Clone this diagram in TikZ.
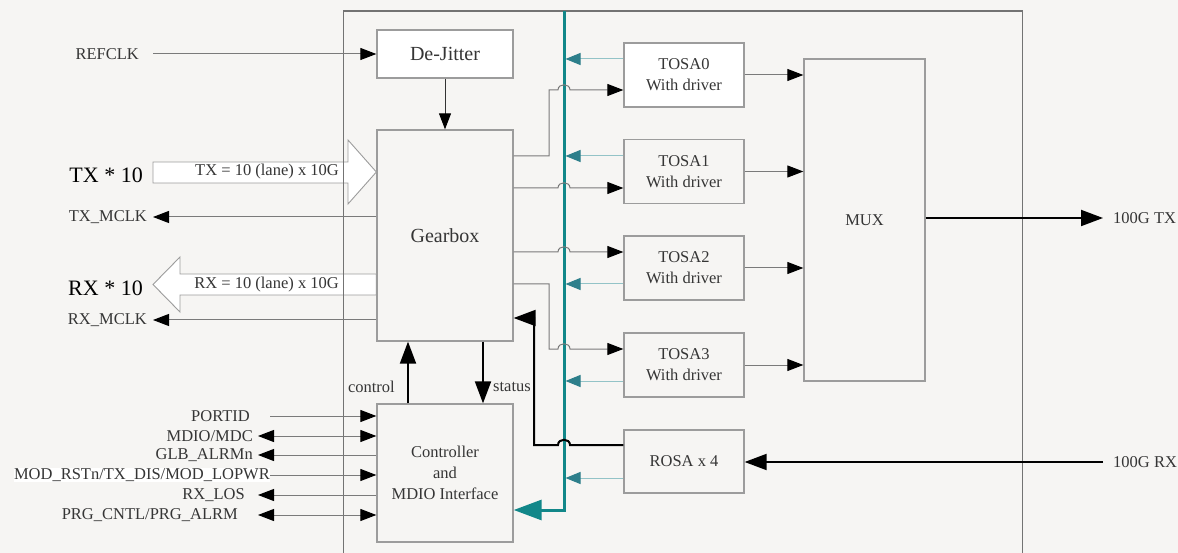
\documentclass[tikz,border=0pt]{standalone}
\usepackage{fontspec}
\setmainfont{Liberation Serif}
\usetikzlibrary{arrows.meta,positioning,calc}

\definecolor{paper}{HTML}{F6F5F3}
\definecolor{edge}{HTML}{9C9C9C}
\definecolor{wirec}{HTML}{7A7A7A}
\definecolor{ink}{HTML}{353535}
\definecolor{teal1}{HTML}{128789}
\definecolor{teal2}{HTML}{93C3C7}
\definecolor{teal3}{HTML}{2D7F8B}

\newcommand\sigfont{\fontsize{16.5}{21}\selectfont}
\newcommand\headfont{\fontsize{20}{24}\selectfont}
\newcommand\portfont{\fontsize{22}{26}\selectfont}

\tikzset{
  blk/.style={draw=edge, line width=1.3pt, fill=paper, inner sep=0pt,
    text=ink, font=\sigfont, align=center},
  sig/.style={text=ink, font=\sigfont, inner sep=0pt},
  wire/.style={draw=wirec, line width=1pt},
  heavy/.style={draw=black, line width=2pt},
  arr/.style={-{Triangle[length=16pt,width=12pt,color=black]}},
  larr/.style={{Triangle[length=16pt,width=12pt,color=black]}-},
  darr/.style={{Triangle[length=16pt,width=12pt,color=black]}-{Triangle[length=16pt,width=12pt,color=black]}},
  bigarr/.style={-{Triangle[length=22pt,width=16pt]}},
  fb/.style={draw=teal2, line width=1pt, shorten >=1.5pt,
    -{Triangle[length=15pt,width=12pt,color=teal3]}},
  fat/.style={draw=edge, line width=0.9pt, fill=white},
}

\begin{document}
\begin{tikzpicture}[x=1pt,y=-1pt]
\fill[paper] (0,0) rectangle (1178,553);
\useasboundingbox (0,0) rectangle (1178,553);

% blocks
\node[blk, fill=white, font=\headfont, minimum width=136pt, minimum height=48pt] (dejit) at (445,54) {De-Jitter};
\node[blk, font=\headfont, minimum width=136pt, minimum height=211pt] (gear) at (445,235.5) {Gearbox};
\node[blk, minimum width=136pt, minimum height=138pt] (ctrl) at (445,473) {Controller\\and\\MDIO Interface};
\foreach \i/\y/\f in {0/75/white,1/171.5/paper,2/268/paper,3/365/paper}
  \node[blk, fill=\f, minimum width=120pt, minimum height=64pt] (tosa\i) at (684,\y) {TOSA\i\\With driver};
\node[blk, minimum width=120pt, minimum height=63pt] (rosa) at (684,461.5) {ROSA x 4};
\node[blk, minimum width=121pt, minimum height=322pt] (mux) at (864.5,220) {MUX};

% host side, wide lane arrows
\node[sig, anchor=east, font=\portfont, text=black] (txin) at (143,175) {TX * 10};
\filldraw[fat] (153,162) -- (348,162) -- (348,140) -- (gear.west |- 0,172)
  -- (348,204) -- (348,183) -- (153,183) -- cycle;
\node[sig, anchor=east] (txlane) at (339,172) {TX = 10 (lane) x 10G};
\node[sig, anchor=east, font=\portfont, text=black] (rxin) at (143,288) {RX * 10};
\filldraw[fat] (gear.west |- 0,274) -- (180,274) -- (180,257) -- (153,284.5)
  -- (180,312) -- (180,295) -- (gear.west |- 0,295) -- cycle;
\node[sig, anchor=east] (rxlane) at (339,284.5) {RX = 10 (lane) x 10G};

% module outline
\draw[draw=black!55, line width=1.6pt] (343.5,553) -- (343.5,11) -- (1022.5,11) -- (1022.5,553);

% clocks
\node[sig, anchor=east] (refclk) at (139,54) {REFCLK};
\draw[wire, arr] ([xshift=14pt]refclk.east) -- (dejit.west);
\draw[wire, draw=black!80, arr] (dejit.south) -- (gear.north);
\node[sig, anchor=east] (txmclk) at (147,217) {TX\_MCLK};
\draw[wire, arr] (gear.west |- txmclk) -- ([xshift=6pt]txmclk.east);
\node[sig, anchor=east] (rxmclk) at (147,320) {RX\_MCLK};
\draw[wire, arr] (gear.west |- rxmclk) -- ([xshift=6pt]rxmclk.east);

% management pins
\node[sig, anchor=east] (portid) at (250,416) {PORTID};
\draw[wire, arr] ([xshift=20pt]portid.east) -- (ctrl.west |- portid);
\node[sig, anchor=east] (mdio) at (253,436) {MDIO/MDC};
\draw[wire, darr] ([xshift=5pt]mdio.east) -- (ctrl.west |- mdio);
\node[sig, anchor=east] (glb) at (253,455) {GLB\_ALRMn};
\draw[wire, larr] ([xshift=5pt]glb.east) -- (ctrl.west |- glb);
\node[sig, anchor=east, fill=white] (modrst) at (270,475) {MOD\_RSTn/TX\_DIS/MOD\_LOPWR};
\draw[wire, arr] (modrst.east) -- (ctrl.west |- modrst);
\node[sig, anchor=east] (rxlos) at (245,495) {RX\_LOS};
\draw[wire, larr] ([xshift=13pt]rxlos.east) -- (ctrl.west |- rxlos);
\node[sig, anchor=east] (prg) at (238,515) {PRG\_CNTL/PRG\_ALRM};
\draw[wire, darr] ([xshift=20pt]prg.east) -- (ctrl.west |- prg);

% control / status
\draw[heavy, bigarr] (ctrl.north -| 408,0) -- (gear.south -| 408,0);
\draw[heavy, bigarr] (gear.south -| 483,0) -- (ctrl.north -| 483,0);
\node[sig, anchor=east] (ctl) at (395,387) {control};
\node[sig, anchor=west] (sts) at (493,387) {status};

% monitor bus
\coordinate (bustop) at (564,11);
\coordinate (busbot) at (564,510);
\draw[teal1, line width=3pt, -{Triangle[length=28pt,width=20pt]}] (bustop) -- (busbot) -- (ctrl.east |- busbot);
\foreach \i/\y in {0/59,1/156,2/284,3/381}
  \draw[fb] (tosa\i.west |- 0,\y) -- (bustop |- 0,\y);
\draw[fb] (rosa.west |- 0,478) -- (bustop |- 0,478);

% gearbox lanes to the TOSAs
\draw[wire, arr] (gear.east |- 0,156) -- (549,156) -- (549,90) -- (558,90)
  .. controls (558,83) and (570,83) .. (570,90) -- (tosa0.west |- 0,90);
\draw[wire, arr] (gear.east |- 0,188) -- (558,188)
  .. controls (558,181) and (570,181) .. (570,188) -- (tosa1.west |- 0,188);
\draw[wire, arr] (gear.east |- 0,252) -- (558,252)
  .. controls (558,245) and (570,245) .. (570,252) -- (tosa2.west |- 0,252);
\draw[wire, arr] (gear.east |- 0,284) -- (549,284) -- (549,349) -- (558,349)
  .. controls (558,342) and (570,342) .. (570,349) -- (tosa3.west |- 0,349);
\foreach \i in {0,...,3}
  \draw[wire, arr] (tosa\i.east) -- (mux.west |- tosa\i.east);

% receive path
\draw[heavy, bigarr] (rosa.west |- 0,445) -- (570,445) .. controls (570,438) and (558,438) .. (558,445)
  -- (534,445) -- (534,318) -- (gear.east |- 0,318);

% line side
\node[sig, anchor=west] (txout) at (1113,218) {100G TX};
\draw[heavy, bigarr] (mux.east |- txout) -- ([xshift=-10pt]txout.west);
\node[sig, anchor=west] (rxout) at (1113,462) {100G RX};
\draw[heavy, bigarr] ([xshift=-10pt]rxout.west) -- (rosa.east |- rxout);
\end{tikzpicture}
\end{document}
